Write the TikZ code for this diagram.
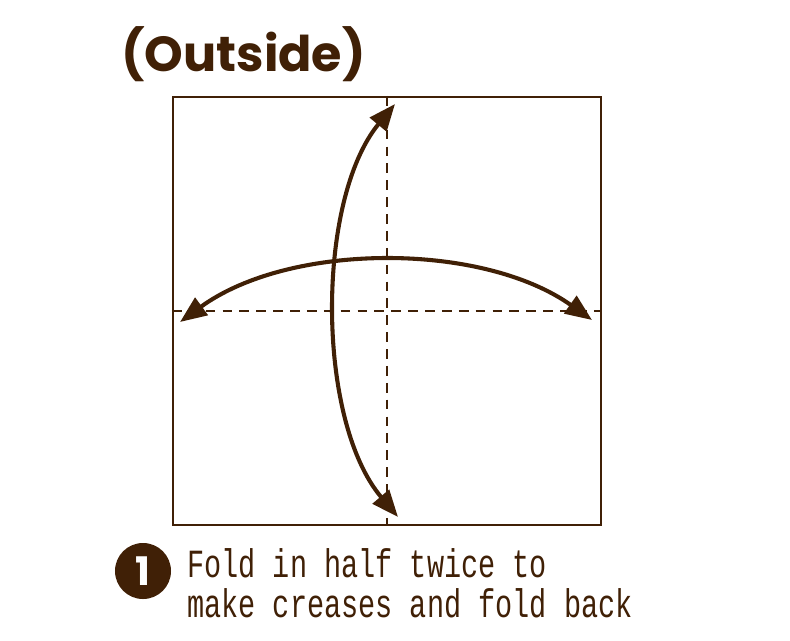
\documentclass[tikz,border=0pt]{standalone}
\usepackage{fontspec}
\usepackage{graphicx}
\usetikzlibrary{positioning,calc,arrows.meta}
\newfontfamily\titlefont{Poppins}
\newfontfamily\stepfont{Liberation Mono}
\definecolor{FoldBrown}{RGB}{64,32,6}

\begin{document}
\begin{tikzpicture}[x=0.025cm, y=-0.025cm,
        % Style giấy và nếp gấp
        sheet/.style={draw=FoldBrown, line width=1.5pt, minimum size=10.7cm, inner sep=0pt},
        crease/.style={draw=FoldBrown, line width=1.3pt, dash pattern=on 7pt off 5pt},
        % Style mũi tên gấp
        foldarrow/.style={{Triangle[length=19pt, width=15pt]}-{Triangle[length=19pt, width=15pt]}, draw=FoldBrown, line width=2.9pt},
        % Style chữ
        titletext/.style={text=FoldBrown, font=\titlefont\bfseries\fontsize{35}{40}\selectfont, anchor=base west, inner sep=0pt},
        stepnum/.style={circle, fill=FoldBrown, text=white, font=\titlefont\bfseries\fontsize{28}{30}\selectfont, minimum size=1.4cm, inner sep=0pt},
        steptext/.style={text=FoldBrown, font=\stepfont\fontsize{20.3}{24}\selectfont, anchor=base west, inner sep=0pt}
    ]
    \useasboundingbox (0,0) rectangle (790,640);

    % --- TIÊU ĐỀ ---
    \node[titletext] (title) at (121,71) {(Outside)};

    % --- TỜ GIẤY ---
    \node[sheet] (paper) at (387,311) {};

    % Nếp gấp
    \draw[crease] (paper.north) -- (paper.south);
    \draw[crease] (paper.west) -- (paper.east);

    % --- MŨI TÊN ---
    \coordinate (hleft) at (180,322);
    \coordinate (hright) at (592,320);
    \coordinate (vtop) at (395,104);
    \coordinate (vbottom) at (398,517);

    \draw[foldarrow] (hleft) .. controls (290,242) and (482,242) .. (hright);
    \draw[foldarrow] (vtop) .. controls (316,200) and (316,420) .. (vbottom);

    % --- BƯỚC 1 ---
    \node[stepnum] (num) at (143,571) {1};
    \node[steptext] (line1) at (187,577) {\scalebox{1}[1.4]{Fold in half twice to}};
    \node[steptext] (line2) at (187,617) {\scalebox{1}[1.4]{make creases and fold back}};

\end{tikzpicture}
\end{document}
